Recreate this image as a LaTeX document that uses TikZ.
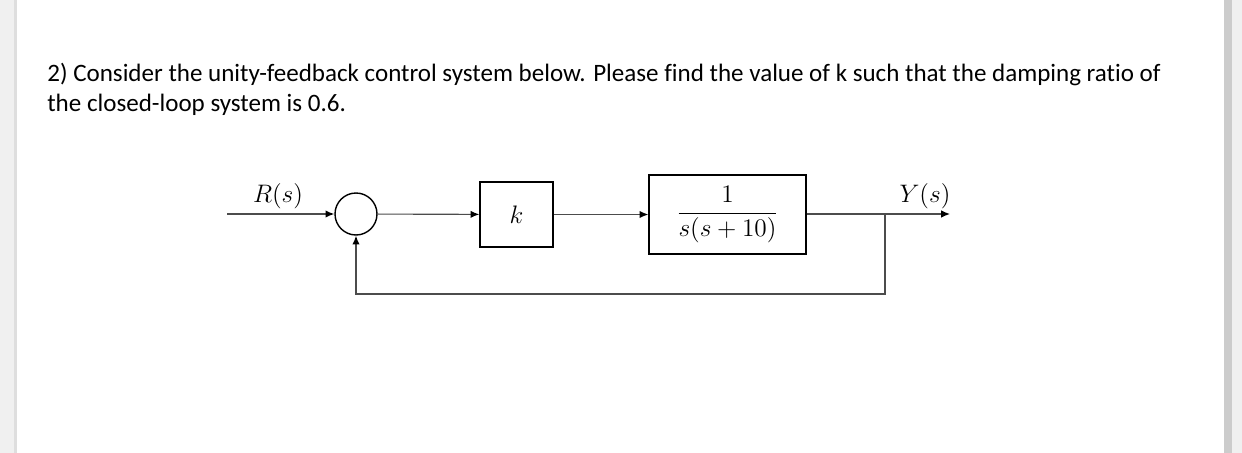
\documentclass[tikz,border=0pt]{standalone}
\usepackage{fontspec}
\setmainfont{Carlito}[Ligatures=NoCommon]
\usetikzlibrary{arrows.meta}
\begin{document}
\begin{tikzpicture}[x=0.02cm, y=-0.02cm, >={Latex[length=5pt,width=4.2pt,black]},
    block/.style={draw, line width=0.8pt, inner sep=0pt},
    sig/.style={draw=black!70, line width=0.65pt},
    lbl/.style={font=\fontsize{14.5}{17}\selectfont, inner sep=0pt},
    qtext/.style={anchor=base west, inner sep=0pt, font=\fontsize{14.25}{17}\selectfont}]
    % Page
    \useasboundingbox (0,0) rectangle (1242,453);
    \fill[white] (0,0) rectangle (1242,453);
    \fill[black!6] (0,0) rectangle (17,453);
    \fill[black!13] (14,0) rectangle (17,453);
    \fill[black!6] (1224,0) rectangle (1242,453);
    \fill[black!20] (1224,0) rectangle (1232,453);

    % Question
    \node[qtext] (qline1) at (47,81) {2) Consider the unity-feedback control system below. Please find the value of k such that the damping ratio of};
    \node[qtext] (qline2) at (47,112) {the closed-loop system is 0.6.};

    % Blocks
    \node[circle, draw, line width=0.8pt, minimum size=0.84cm, inner sep=0pt] (sum) at (356,214) {};
    \node[block, minimum width=1.46cm, minimum height=1.3cm, lbl] (kblk) at (516.5,214.5) {$k$};
    \node[block, minimum width=3.14cm, minimum height=1.58cm, lbl] (plant) at (727.5,214.5) {$\displaystyle\frac{1}{s(s+10)}$};

    % Signals
    \coordinate (in) at (227,214);
    \coordinate (out) at (950,214);
    \coordinate (branch) at (885,214);
    \coordinate (fb) at (885,294);
    \draw[sig,->] (in) -- (sum);
    \draw[sig,->] (sum) -- (kblk);
    \draw[sig,->] (kblk) -- (plant);
    \draw[sig,->] (plant.east |- out) -- (out);
    \draw[sig,->] (branch) -- (fb) -| (sum);

    % Labels
    \node[lbl] (rlabel) at (278,196) {$R(s)$};
    \node[lbl] (ylabel) at (925,196) {$Y(s)$};
\end{tikzpicture}
\end{document}
